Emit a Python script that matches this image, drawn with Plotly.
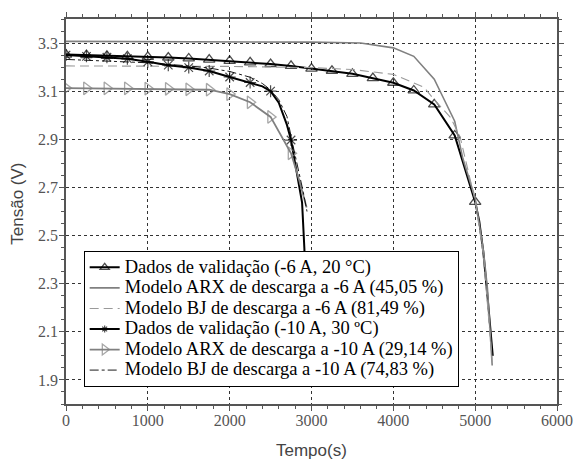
import plotly.graph_objects as go

# ---- data ----
t_val6 = [0, 250, 500, 750, 1000, 1250, 1500, 1750, 2000, 2250, 2500, 2750, 3000, 3250, 3500,
          3750, 4000, 4250, 4500, 4750, 5000, 5050, 5100, 5150, 5200, 5215]
v_val6 = [3.252, 3.250, 3.247, 3.245, 3.243, 3.240, 3.236, 3.231, 3.226, 3.220, 3.213, 3.205,
          3.194, 3.185, 3.172, 3.154, 3.135, 3.103, 3.045, 2.916, 2.640, 2.56, 2.43, 2.25, 2.05, 2.00]
mk_val6 = [i * 250 for i in range(21)]  # marker times (every 250 s)

t_arx6 = [0, 1000, 2000, 3000, 3600, 4000, 4250, 4500, 4600, 4750, 4850, 5000, 5100, 5150, 5208]
v_arx6 = [3.307, 3.306, 3.305, 3.304, 3.300, 3.280, 3.245, 3.150, 3.080, 2.975, 2.820, 2.655,
          2.44, 2.28, 1.96]

t_bj6 = [0, 1000, 2000, 3000, 3500, 4000, 4250, 4375, 4500, 4700, 4816, 5000, 5100, 5200, 5210]
v_bj6 = [3.205, 3.205, 3.203, 3.198, 3.190, 3.170, 3.135, 3.116, 3.065, 2.990, 2.910, 2.645,
         2.42, 2.02, 1.97]

t_val10 = [0, 250, 500, 750, 1000, 1250, 1500, 1750, 2000, 2250, 2400, 2500, 2600, 2700, 2750,
           2800, 2850, 2885, 2913, 2935, 2950]
v_val10 = [3.250, 3.245, 3.241, 3.235, 3.222, 3.208, 3.198, 3.184, 3.159, 3.136, 3.120, 3.100,
           3.052, 2.960, 2.897, 2.80, 2.70, 2.637, 2.446, 2.20, 1.90]
mk_val10 = [i * 250 for i in range(12)]

t_arx10 = [0, 250, 500, 750, 1000, 1250, 1500, 1750, 2000, 2250, 2500, 2750, 2850, 2940]
v_arx10 = [3.113, 3.112, 3.112, 3.112, 3.111, 3.110, 3.108, 3.106, 3.088, 3.054, 2.993, 2.842,
           2.73, 2.617]
mk_arx10 = [i * 250 for i in range(12)]

t_bj10 = [0, 500, 1000, 1500, 1750, 2000, 2250, 2400, 2500, 2600, 2700, 2770, 2850, 2900, 2945]
v_bj10 = [3.232, 3.226, 3.218, 3.205, 3.196, 3.182, 3.158, 3.132, 3.105, 3.065, 2.995, 2.880,
          2.76, 2.68, 2.60]

names = ["Dados de validação (-6 A, 20 °C)",
         "Modelo ARX de descarga a -6 A (45,05 %)",
         "Modelo BJ de descarga a -6 A (81,49 %)",
         "Dados de validação (-10 A, 30 ºC)",
         "Modelo ARX de descarga a -10 A (29,14 %)",
         "Modelo BJ de descarga a -10 A (74,83 %)"]

x_ticks = [0, 1000, 2000, 3000, 4000, 5000, 6000]
y_ticks = [1.9, 2.1, 2.3, 2.5, 2.7, 2.9, 3.1, 3.3]

GRAY = "#808080"
LGRAY = "#9a9a9a"
SERIF = "Times New Roman, Liberation Serif, serif"
SANS = "Liberation Sans, Arial, sans-serif"

def lg(name):
    return f"<span style='font-size:18.5px'>{name}</span>"

def mk_sizes(ts, mk_ts, size):
    return [size if t in mk_ts else 0 for t in ts]

fig = go.Figure()

fig.add_trace(go.Scatter(x=t_val6, y=v_val6, name=lg(names[0]), mode="lines+markers",
                         line=dict(color="black", width=2),
                         marker=dict(symbol="triangle-up-open", size=mk_sizes(t_val6, mk_val6, 10),
                                     color="black", line=dict(width=1.3, color="black"))))
fig.add_trace(go.Scatter(x=t_arx6, y=v_arx6, name=lg(names[1]), mode="lines",
                         line=dict(color=GRAY, width=1.6)))
fig.add_trace(go.Scatter(x=t_bj6, y=v_bj6, name=lg(names[2]), mode="lines",
                         line=dict(color=LGRAY, width=1.1, dash="9px,5px")))
fig.add_trace(go.Scatter(x=t_val10, y=v_val10, name=lg(names[3]), mode="lines+markers",
                         line=dict(color="black", width=2),
                         marker=dict(symbol="asterisk-open", size=mk_sizes(t_val10, mk_val10, 10),
                                     color="black", line=dict(width=1.2, color="black"))))
fig.add_trace(go.Scatter(x=t_arx10, y=v_arx10, name=lg(names[4]), mode="lines+markers",
                         line=dict(color=GRAY, width=1.8),
                         marker=dict(symbol="triangle-right-open", size=mk_sizes(t_arx10, mk_arx10, 11),
                                     color=GRAY, line=dict(width=1.3, color=GRAY))))
fig.add_trace(go.Scatter(x=t_bj10, y=v_bj10, name=lg(names[5]), mode="lines",
                         line=dict(color="black", width=0.9, dash="dashdot")))

axis_common = dict(showline=True, linecolor="#555555", linewidth=1.5, mirror="allticks",
                   ticks="outside", ticklen=5, tickwidth=1.2, tickcolor="#555555",
                   showgrid=True, gridcolor="#333333", griddash="dot", gridwidth=1,
                   zeroline=False,
                   tickfont=dict(family=SERIF, size=16, color="#555555"))

fig.update_xaxes(range=[0, 6000], tickvals=x_ticks, ticktext=[str(v) for v in x_ticks],
                 minor=dict(dtick=200, ticks="outside", ticklen=3, tickcolor="#555555", showgrid=False),
                 ticklabelstandoff=-4,
                 **axis_common)
fig.update_yaxes(range=[1.8, 3.4], tickvals=y_ticks, ticktext=[f"{v:.1f}" for v in y_ticks],
                 minor=dict(tick0=1.8, dtick=0.05, ticks="outside", ticklen=3, tickcolor="#555555",
                            showgrid=False),
                 ticklabelstandoff=-2,
                 **axis_common)

# axis titles as annotations (exact placement)
fig.add_annotation(text="Tempo(s)", xref="paper", yref="paper", x=0.5, y=-0.12,
                   xanchor="center", yanchor="middle", showarrow=False,
                   font=dict(family=SANS, size=17, color="#444444"))
fig.add_annotation(text="Tensão (V)", xref="paper", yref="paper", x=-0.098, y=0.52,
                   xanchor="center", yanchor="middle", showarrow=False, textangle=-90,
                   font=dict(family=SANS, size=17, color="#444444"))

fig.update_layout(
    width=585, height=462,
    margin=dict(l=66, r=20, t=14, b=58),
    paper_bgcolor="white", plot_bgcolor="white",
    showlegend=True,
    legend=dict(x=0.036, y=0.044, xanchor="left", yanchor="bottom",
                bgcolor="white", bordercolor="black", borderwidth=1,
                font=dict(family=SERIF, size=13.5, color="black"),
                tracegroupgap=0, itemwidth=30, traceorder="normal"),
)

fig.write_html("out.html")
